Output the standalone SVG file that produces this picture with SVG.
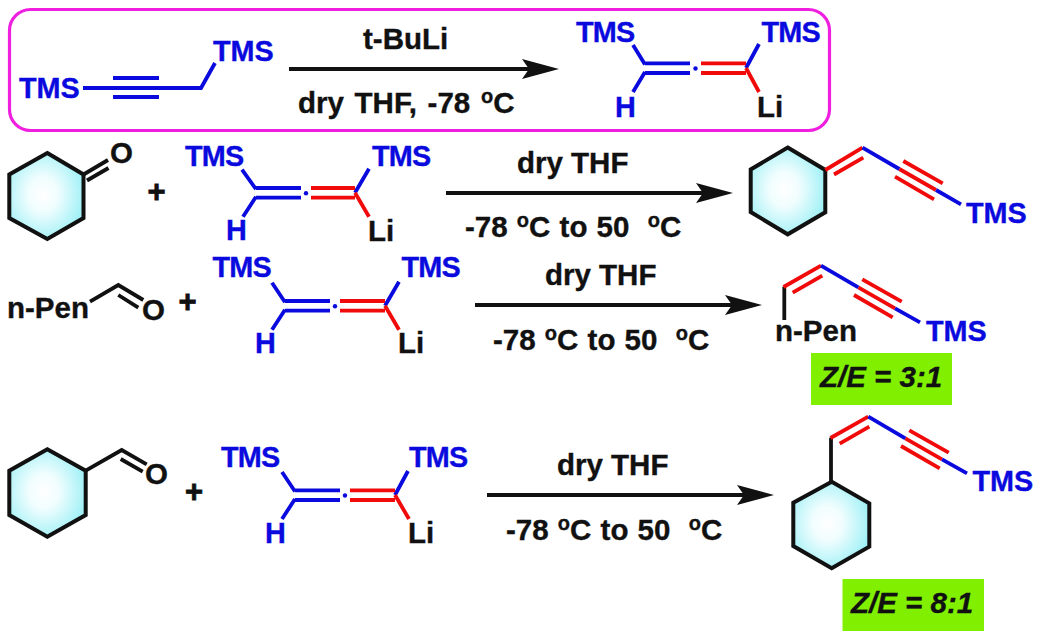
<svg xmlns="http://www.w3.org/2000/svg" width="1043" height="638" viewBox="0 0 1043 638">
<style>
text{font-family:"Liberation Sans",Arial,sans-serif;font-weight:700;font-size:29.5px;fill:#111;stroke:#111;stroke-width:.35px;white-space:pre}
.b{fill:#0a0ade;stroke:#0a0ade;font-size:28.800px}
.n{letter-spacing:-.8px}
.i{font-style:italic}
.t{word-spacing:1px}
.bb,.rb,.kb{fill:none;stroke-width:3.8;stroke-linecap:butt;stroke-linejoin:miter}
.bb{stroke:#0a0ade}.rb{stroke:#f00a0a}.kb{stroke:#111}
.ring{fill:url(#cy);stroke:#111;stroke-width:4;stroke-linejoin:miter}
.ar{fill:none;stroke:#111;stroke-width:3.8}
.tag{fill:#80f000}
.sup{font-size:20px}
.dot{fill:#0a0ade}
.plus{font-size:31px;stroke-width:.8px}
</style>
<defs>
<radialGradient id="cy" cx="0.45" cy="0.48" r="0.58"><stop offset="0" stop-color="#fff"/><stop offset="0.35" stop-color="#f0fdfe"/><stop offset="1" stop-color="#9cf0f6"/></radialGradient>
<marker id="ah" markerUnits="userSpaceOnUse" markerWidth="38" markerHeight="22" refX="28" refY="10" orient="auto" overflow="visible"><path d="M0 0L37 10L0 20L7 10Z" fill="#111"/></marker>
</defs>
<rect id="box" x="9.500" y="9.500" width="820" height="121" rx="21" fill="none" stroke="#f01fe0" stroke-width="3.200"/>

<g id="connectors">
<path class="ar" d="M289 69H550" marker-end="url(#ah)"/>
<path class="ar" d="M446 193H724" marker-end="url(#ah)"/>
<path class="ar" d="M475 305H753" marker-end="url(#ah)"/>
<path class="ar" d="M487 495H765" marker-end="url(#ah)"/>
</g>

<g id="start">
<text class="b" x="19" y="98">TMS</text>
<text class="b" x="213" y="61">TMS</text>
<path class="bb" d="M83 88H201L215 63M113 78H159M113 97H159"/>
</g>

<g id="allene-0" transform="translate(645 68)">
<text class="b n" x="-69" y="-26.500">TMS</text><text class="b n" x="116.500" y="-26.500">TMS</text><text class="b" x="-30" y="49">H</text><text x="112" y="49">Li</text>
<path class="bb" d="M-12 -23L0 -3.500M-12 24L0 4M0 -4.700H45M0 5H45M101 0L114 -24"/>
<circle class="dot" cx="50.500" cy="0.500" r="2.200"/>
<path class="rb" d="M56 -4.700H101M56 5H101M101 0L114 24"/>
</g>

<g id="cyclohexanone">
<path class="ring" d="M47.300 153L83.500 174.500V218L47.300 239L9.300 218V174.500Z"/>
<path class="kb" d="M83.500 174.500L108 160M87 180.500L108.500 168"/>
<text x="110" y="163">O</text>
</g>
<text id="plus-1" class="plus" x="147.500" y="202">+</text>
<g id="allene-1" transform="translate(256 192.700)">
<text class="b n" x="-71" y="-27">TMS</text><text class="b n" x="116" y="-27">TMS</text><text class="b" x="-30" y="47.500">H</text><text x="112" y="48">Li</text>
<path class="bb" d="M-14 -23L0 -3.500M-13 24L0 4M0 -4.700H45M0 5H45M99 0L113 -24"/>
<circle class="dot" cx="50" cy="0.500" r="2.200"/>
<path class="rb" d="M55 -4.700H99M55 5H99M99 0L113 24"/>
</g>
<text id="cond-1a" x="517" y="173">dry THF</text>
<text id="cond-1b" class="t" x="465" y="237">-78 <tspan class="sup" dy="-10">o</tspan><tspan dy="10">C to 50  </tspan><tspan class="sup" dy="-10">o</tspan><tspan dy="10">C</tspan></text>
<g id="product-1">
<path class="ring" d="M787.700 147.500L825.300 170V212.300L787.700 234.300L750.700 212V169.500Z"/>
<path class="rb" d="M825.300 170L862.500 147.700M834 174.500L863.300 157.700M899.300 169L936 190M903.300 161L942.700 183.300M895 176.700L934 199.300"/>
<path class="bb" d="M862.500 147.700L899.300 169M936 190L961 204.300"/>
<text class="b" x="966" y="222.500">TMS</text>
</g>

<g id="aldehyde-2">
<text x="7" y="318">n-Pen</text>
<path class="kb" d="M90 301.700L118.300 285L143.300 300M118.300 295L138.300 307.700"/>
<text x="142" y="320">O</text>
</g>
<text id="plus-2" class="plus" x="178.500" y="312">+</text>
<g id="allene-2" transform="translate(285 305.700)">
<text class="b n" x="-72.500" y="-29">TMS</text><text class="b n" x="116.500" y="-29">TMS</text><text class="b" x="-30" y="47">H</text><text x="113" y="47">Li</text>
<path class="bb" d="M-13 -23L0 -3.500M-13 24L0 4M0 -4.700H45M0 5H45M100 0L114 -24"/>
<circle class="dot" cx="50" cy="0.500" r="2.200"/>
<path class="rb" d="M55 -4.700H100M55 5H100M100 0L114 24"/>
</g>
<text id="cond-2a" x="545" y="285">dry THF</text>
<text id="cond-2b" class="t" x="493" y="350">-78 <tspan class="sup" dy="-10">o</tspan><tspan dy="10">C to 50  </tspan><tspan class="sup" dy="-10">o</tspan><tspan dy="10">C</tspan></text>
<g id="product-2">
<path class="kb" d="M784.300 320V286.700"/>
<path class="rb" d="M783.500 287L821 265.700M792.700 292.700L822.300 275.700M858.300 287.300L895 308.300M862.300 279.300L901.700 301.700M854 295L892.700 317.300"/>
<path class="bb" d="M821 265.700L858.300 287.300M895 308.300L920 322.300"/>
<text x="775" y="341">n-Pen</text>
<text class="b" x="926" y="341">TMS</text>
<rect class="tag" x="811" y="353" width="141" height="52"/>
<text class="i" x="820" y="387">Z/E = 3:1</text>
</g>

<g id="aldehyde-3">
<path class="ring" d="M47.300 449.300L85.700 470.700V515L47.300 536.700L9.300 515V470.700Z"/>
<path class="kb" d="M85.700 470.700L121.700 450L146.700 464.300M120.700 459L142.700 471.700"/>
<text x="145" y="484.300">O</text>
</g>
<text id="plus-3" class="plus" x="185" y="502">+</text>
<g id="allene-3" transform="translate(295 495)">
<text class="b n" x="-74" y="-28">TMS</text><text class="b n" x="114" y="-28">TMS</text><text class="b" x="-30" y="47.500">H</text><text x="113" y="47.500">Li</text>
<path class="bb" d="M-13 -23L0 -3.500M-13 24L0 4M0 -4.700H45M0 5H45M100 0L113 -24"/>
<circle class="dot" cx="50" cy="0.500" r="2.200"/>
<path class="rb" d="M55 -4.700H100M55 5H100M100 0L114 24"/>
</g>
<text id="cond-3a" x="557" y="475">dry THF</text>
<text id="cond-3b" class="t" x="506" y="540">-78 <tspan class="sup" dy="-10">o</tspan><tspan dy="10">C to 50  </tspan><tspan class="sup" dy="-10">o</tspan><tspan dy="10">C</tspan></text>
<g id="product-3">
<path class="ring" d="M831.700 481.700L869.300 503.300V546.700L831.700 568.300L793.300 546V502.700Z"/>
<path class="kb" d="M831 481.700V437.700"/>
<path class="rb" d="M830.500 438L868.300 416.700M839.700 443.700L869.300 426.700M905.300 438.300L942 459.300M909.300 430.300L948.700 452.700M901 446L939.700 468.300"/>
<path class="bb" d="M868.300 416.700L905.300 438.300M942 459.300L967 473.300"/>
<text class="b" x="972.500" y="490.700">TMS</text>
<rect class="tag" x="842.500" y="579" width="141.500" height="52"/>
<text class="i" x="851" y="613">Z/E = 8:1</text>
</g>

<g id="reagent-text">
<text x="363" y="49">t-BuLi</text>
<text x="298" y="113" style="word-spacing:2.500px">dry THF, -78 <tspan class="sup" dy="-10">o</tspan><tspan dy="10">C</tspan></text>
</g>
</svg>
